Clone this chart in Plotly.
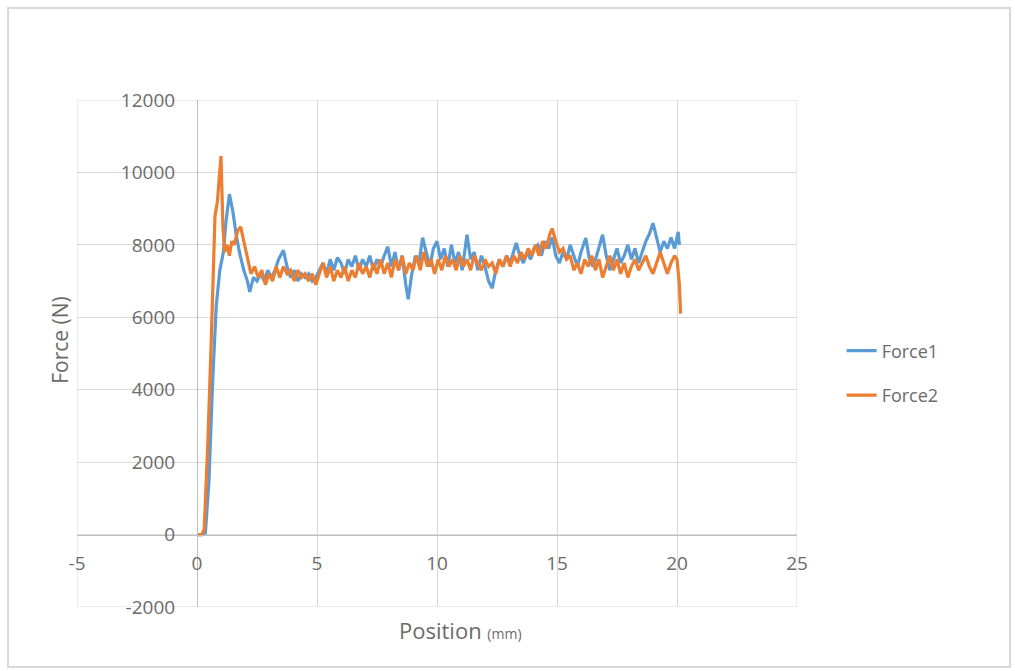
import plotly.graph_objects as go

# Force1 (blue)
x1 = [0.0, 0.2, 0.35, 0.5, 0.65, 0.8, 0.95, 1.1, 1.2, 1.35, 1.5, 1.65, 1.8, 1.95, 2.1, 2.2, 2.35, 2.5, 2.65, 2.8,
      2.95, 3.1, 3.25, 3.4, 3.6, 3.75, 3.9, 4.05, 4.2, 4.35, 4.5, 4.65, 4.8, 4.95, 5.1, 5.25, 5.4, 5.55, 5.7, 5.85,
      6.0, 6.15, 6.3, 6.45, 6.6, 6.75, 6.9, 7.05, 7.2, 7.35, 7.5, 7.65, 7.8, 7.95, 8.1, 8.25, 8.4, 8.55, 8.7, 8.8,
      8.95, 9.1, 9.25, 9.4, 9.55, 9.7, 9.85, 10.0, 10.15, 10.3, 10.45, 10.6, 10.75, 10.9, 11.05, 11.25, 11.4, 11.55, 11.7, 11.85,
      12.0, 12.15, 12.3, 12.45, 12.6, 12.75, 12.9, 13.05, 13.3, 13.45, 13.6, 13.75, 13.9, 14.05, 14.2, 14.35, 14.5, 14.65, 14.8, 14.95,
      15.1, 15.25, 15.4, 15.55, 15.7, 15.85, 16.0, 16.2, 16.35, 16.5, 16.65, 16.9, 17.05, 17.2, 17.35, 17.5, 17.65, 17.8, 17.95, 18.1,
      18.25, 18.4, 18.55, 18.7, 18.85, 19.0, 19.15, 19.3, 19.45, 19.6, 19.75, 19.9, 20.05, 20.1]
force1 = [0, 0, 50, 1500, 4200, 6300, 7300, 7800, 8600, 9400, 8900, 8200, 7700, 7300, 7000, 6700, 7100, 7000, 7200, 7000,
          7300, 7100, 7300, 7600, 7850, 7400, 7100, 7300, 7000, 7200, 7100, 7200, 7000, 7100, 7300, 7500, 7200, 7600, 7300, 7650,
          7500, 7200, 7600, 7400, 7700, 7300, 7600, 7400, 7700, 7300, 7600, 7400, 7700, 7950, 7400, 7800, 7300, 7700, 6900, 6500,
          7200, 7700, 7500, 8200, 7800, 7400, 7900, 8100, 7600, 7900, 7400, 8000, 7500, 7800, 7300, 8280, 7600, 7800, 7300, 7700,
          7400, 7000, 6800, 7300, 7600, 7400, 7700, 7500, 8050, 7700, 7500, 7800, 7600, 7900, 8000, 7700, 8100, 7900, 8200, 7700,
          7500, 7800, 7600, 8000, 7700, 7400, 7800, 8190, 7600, 7400, 7700, 8280, 7700, 7300, 7600, 7900, 7500, 7700, 8000, 7600,
          7900, 7500, 7800, 8100, 8300, 8600, 8200, 7800, 8100, 7900, 8200, 7900, 8360, 8000]

# Force2 (orange)
x2 = [0.0, 0.2, 0.3, 0.45, 0.6, 0.75, 0.85, 0.93, 1.0, 1.08, 1.15, 1.25, 1.35, 1.45, 1.55, 1.7, 1.82, 1.95, 2.1, 2.25,
      2.4, 2.55, 2.7, 2.85, 3.0, 3.15, 3.3, 3.45, 3.6, 3.75, 3.9, 4.05, 4.2, 4.35, 4.5, 4.65, 4.8, 4.95, 5.1, 5.25,
      5.4, 5.55, 5.7, 5.85, 6.0, 6.15, 6.3, 6.45, 6.6, 6.75, 6.9, 7.05, 7.2, 7.35, 7.5, 7.65, 7.8, 7.95, 8.1, 8.25,
      8.4, 8.55, 8.7, 8.85, 9.0, 9.15, 9.3, 9.45, 9.6, 9.75, 9.9, 10.05, 10.2, 10.35, 10.5, 10.65, 10.8, 10.95, 11.1, 11.25,
      11.4, 11.55, 11.7, 11.85, 12.0, 12.15, 12.3, 12.45, 12.6, 12.75, 12.9, 13.05, 13.2, 13.35, 13.5, 13.65, 13.8, 13.95, 14.1, 14.25,
      14.4, 14.55, 14.7, 14.8, 14.95, 15.1, 15.25, 15.4, 15.55, 15.7, 15.85, 16.0, 16.15, 16.3, 16.45, 16.6, 16.75, 16.9, 17.05, 17.2,
      17.35, 17.5, 17.65, 17.8, 17.95, 18.1, 18.25, 18.4, 18.55, 18.7, 18.85, 19.0, 19.15, 19.3, 19.45, 19.6, 19.75, 19.9, 20.0, 20.1,
      20.15]
force2 = [0, 0, 150, 2500, 5500, 8800, 9200, 10000, 10450, 8500, 7800, 8000, 7700, 8100, 8000, 8400, 8500, 8100, 7600, 7200,
          7400, 7100, 7300, 6900, 7200, 7000, 7400, 7100, 7400, 7200, 7300, 7000, 7300, 7100, 7200, 7000, 7200, 6900, 7200, 7500,
          7100, 7400, 7000, 7300, 7100, 7400, 7000, 7300, 7100, 7500, 7200, 7400, 7100, 7500, 7200, 7600, 7200, 7500, 7100, 7600,
          7300, 7700, 7200, 7500, 7300, 7700, 7300, 7800, 7400, 7600, 7200, 7600, 7300, 7700, 7400, 7600, 7300, 7700, 7400, 7600,
          7300, 7700, 7500, 7300, 7600, 7400, 7500, 7200, 7600, 7400, 7700, 7400, 7700, 7500, 7800, 7600, 7900, 7700, 8000, 7700,
          8100, 7900, 8300, 8450, 8100, 7800, 7900, 7600, 7700, 7300, 7500, 7200, 7600, 7400, 7700, 7300, 7600, 7100, 7400, 7700,
          7300, 7600, 7200, 7500, 7100, 7400, 7600, 7300, 7500, 7700, 7400, 7200, 7500, 7800, 7500, 7200, 7500, 7700, 7600, 6900,
          6100]

x_ticks = [-5, 0, 5, 10, 15, 20, 25]
x_ticktext = ["-5", "0", "5", "10", "15", "20", "25"]
y_ticks = [-2000, 0, 2000, 4000, 6000, 8000, 10000, 12000]
y_ticktext = ["-2000", "0", "2000", "4000", "6000", "8000", "10000", "12000"]

FONT = "Open Sans"
GRAY = "#6b6b6b"
GRID = "#d9d9d9"

fig = go.Figure()
fig.add_trace(go.Scatter(x=x1, y=force1, mode="lines", name="Force1", legendgroup="a",
                         line=dict(color="#5B9BD5", width=3.2)))
fig.add_trace(go.Scatter(x=x2, y=force2, mode="lines", name="Force2", legendgroup="b",
                         line=dict(color="#ED7D31", width=3.2)))

fig.update_layout(
    width=1015, height=671,
    margin=dict(l=77, r=218, t=100, b=64),
    paper_bgcolor="white", plot_bgcolor="white",
    font=dict(family=FONT, color=GRAY, size=18),
    showlegend=True,
    legend=dict(x=1.062, xanchor="left", y=0.4615, yanchor="middle",
                font=dict(size=18, color=GRAY), itemwidth=30, tracegroupgap=18,
                bgcolor="rgba(0,0,0,0)"),
    xaxis=dict(range=[-5, 25], tickvals=x_ticks, ticktext=x_ticktext, showgrid=True, gridcolor=GRID, gridwidth=1,
               zeroline=False, showline=True, linecolor="#bfbfbf", linewidth=1,
               anchor="free", position=2000 / 14000,
               ticks="outside", ticklen=12, tickcolor="rgba(0,0,0,0)",
               tickfont=dict(size=19, color=GRAY, family=FONT)),
    yaxis=dict(range=[-2000, 12000], tickvals=y_ticks, ticktext=y_ticktext, showgrid=True, gridcolor=GRID, gridwidth=1,
               zeroline=False, showline=True, linecolor="#bfbfbf", linewidth=1,
               anchor="free", position=5 / 30,
               ticks="outside", ticklen=18, tickcolor="rgba(0,0,0,0)",
               tickfont=dict(size=19, color=GRAY, family=FONT)),
    annotations=[
        dict(text="Position <span style='font-size:14px'>(mm)</span>", xref="paper", yref="paper",
             x=0.532, y=-0.045, xanchor="center", yanchor="middle", showarrow=False,
             font=dict(size=22, color=GRAY, family=FONT)),
        dict(text="Force (N)", xref="paper", yref="paper", x=-0.0236, y=0.527, textangle=-90,
             xanchor="center", yanchor="middle", showarrow=False,
             font=dict(size=21, color=GRAY, family=FONT)),
    ],
    shapes=[
        dict(type="rect", xref="paper", yref="paper", x0=-0.0958, x1=1.2958, y0=-0.1183, y1=1.1815,
             line=dict(color="#d9d9d9", width=2), fillcolor="rgba(0,0,0,0)", layer="below"),
        dict(type="rect", xref="x", yref="y", x0=-5, x1=25, y0=-2000, y1=12000,
             line=dict(color=GRID, width=1), fillcolor="rgba(0,0,0,0)", layer="below"),
    ],
)

fig.write_html("out.html")
